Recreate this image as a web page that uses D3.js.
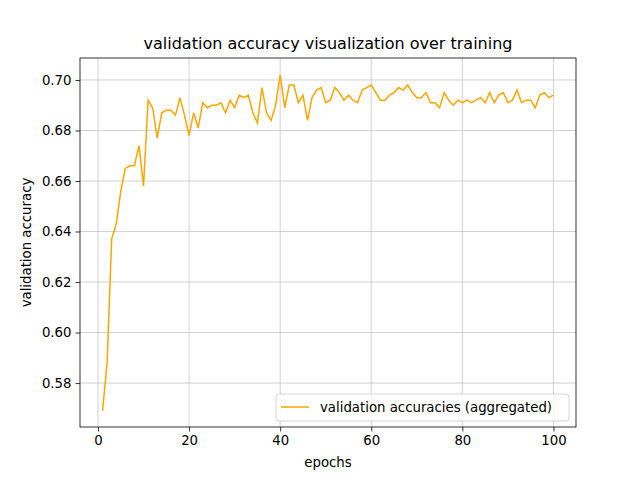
<!DOCTYPE html>
<html><head><meta charset="utf-8">
<script src="https://cdn.jsdelivr.net/npm/d3@7"></script>
<style>body{margin:0;background:#fff}svg{font-family:"DejaVu Sans",sans-serif}</style>
</head><body><svg id="c" width="640" height="480"></svg>
<script>
const accuracies=[0.569,0.588,0.637,0.643,0.656,0.665,0.666,0.666,0.674,0.658,
0.692,0.689,0.677,0.687,0.688,0.688,0.686,0.693,0.686,0.678,
0.687,0.681,0.691,0.689,0.690,0.690,0.691,0.687,0.692,0.689,
0.694,0.693,0.694,0.687,0.683,0.697,0.687,0.684,0.690,0.702,
0.689,0.698,0.698,0.691,0.694,0.684,0.693,0.696,0.697,0.691,
0.692,0.697,0.695,0.692,0.694,0.692,0.691,0.696,0.697,0.698,
0.695,0.692,0.692,0.694,0.695,0.697,0.696,0.698,0.695,0.693,
0.693,0.695,0.691,0.691,0.689,0.695,0.692,0.690,0.692,0.691,
0.692,0.691,0.692,0.693,0.691,0.695,0.691,0.694,0.695,0.691,
0.692,0.696,0.691,0.692,0.692,0.689,0.694,0.695,0.693,0.694];
const epochs=accuracies.map((d,i)=>i+1);
const xTicks=[0,20,40,60,80,100];
const yTicks=[0.58,0.60,0.62,0.64,0.66,0.68,0.70];
const L=80,R=576,T=58,B=427;
const svg=d3.select("#c");
const x=d3.scaleLinear().domain([-3.95,104.95]).range([L,R]);
const y=d3.scaleLinear().domain([0.5626,0.7087]).range([B,T]);
const g=svg.append("g");
g.selectAll(".gx").data(xTicks).join("line").attr("x1",d=>x(d)).attr("x2",d=>x(d)).attr("y1",T).attr("y2",B).attr("stroke","#b0b0b0").attr("stroke-opacity",0.7).attr("stroke-width",0.8);
g.selectAll(".gy").data(yTicks).join("line").attr("y1",d=>y(d)).attr("y2",d=>y(d)).attr("x1",L).attr("x2",R).attr("stroke","#b0b0b0").attr("stroke-opacity",0.7).attr("stroke-width",0.8);
svg.append("path").datum(accuracies).attr("fill","none").attr("stroke","orange").attr("stroke-width",1.5)
 .attr("d",d3.line().x((d,i)=>x(epochs[i])).y(d=>y(d)));
const ax=svg.append("g").attr("transform",`translate(0,${B})`).call(d3.axisBottom(x).tickValues(xTicks).tickSize(4.5).tickPadding(4));
const ay=svg.append("g").attr("transform",`translate(${L},0)`).call(d3.axisLeft(y).tickValues(yTicks).tickFormat(d3.format(".2f")).tickSize(4.5).tickPadding(4));
[ax,ay].forEach(a=>{a.selectAll("text").attr("font-size",13.3).attr("fill","#000").attr("font-family","DejaVu Sans");a.select(".domain").remove();a.selectAll("line").attr("stroke","#000").attr("stroke-width",0.8);});
svg.append("rect").attr("x",L).attr("y",T).attr("width",R-L).attr("height",B-T).attr("fill","none").attr("stroke","#000").attr("stroke-width",0.8);
svg.append("text").attr("x",(L+R)/2).attr("y",49).attr("text-anchor","middle").attr("font-size",16).text("validation accuracy visualization over training");
svg.append("text").attr("x",(L+R)/2).attr("y",467).attr("text-anchor","middle").attr("font-size",13.3).text("epochs");
svg.append("text").attr("transform",`translate(31,${(T+B)/2}) rotate(-90)`).attr("text-anchor","middle").attr("font-size",13.3).text("validation accuracy");
const lg=svg.append("g");
lg.append("rect").attr("x",276).attr("y",394).attr("width",293).attr("height",27).attr("rx",3).attr("fill","#fff").attr("fill-opacity",0.8).attr("stroke","#ccc").attr("stroke-width",0.8);
lg.append("line").attr("x1",281).attr("x2",309).attr("y1",407).attr("y2",407).attr("stroke","orange").attr("stroke-width",1.5);
lg.append("text").attr("x",320).attr("y",412).attr("font-size",13.3).text("validation accuracies (aggregated)");
</script></body></html>
